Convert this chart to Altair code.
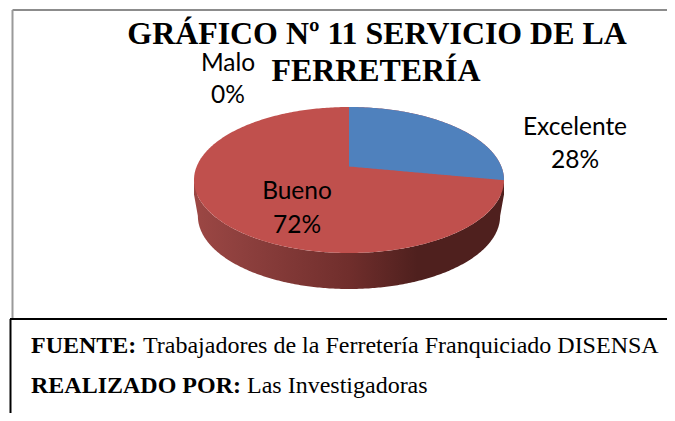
import numpy as np
import pandas as pd
import altair as alt

# ---- values
categories = ["Excelente", "Bueno", "Malo"]
shares = [28, 72, 0]
percent_labels = ["28%", "72%", "0%"]
title_lines = ["GRÁFICO Nº 11 SERVICIO DE LA", "FERRETERÍA"]
source_bold = ["FUENTE:", "REALIZADO POR:"]
source_plain = ["Trabajadores de la Ferretería Franquiciado DISENSA", "Las Investigadoras"]

W, H = 659, 405
CX, CY = 341, 172      # centre of the top face in the chart's frame
RX, RY = 155, 73       # radii of the top face
APEX = 0.185           # perspective shift of the slice apex, in RY units
DEPTH = 36 / RY
WALL_RX = 0.975

x_scale = alt.Scale(domain=[-CX / RX, (W - CX) / RX], range=[0, W], nice=False, zero=False)
y_scale = alt.Scale(domain=[-(H - CY) / RY, CY / RY], range=[H, 0], nice=False, zero=False)


def area_layer(df, color):
    return alt.Chart(df).mark_area(color=color, line=False, interpolate="linear").encode(
        x=alt.X("x:Q", scale=x_scale, axis=None),
        y=alt.Y("y:Q", scale=y_scale, axis=None),
        y2="y2:Q",
    )


def txt(text, x, y, font, size, bold=False, align="left", color="#000000"):
    return alt.Chart(pd.DataFrame({"t": [text]})).mark_text(
        font=font, fontSize=size, fontWeight="bold" if bold else "normal",
        align=align, baseline="alphabetic", color=color,
    ).encode(text="t:N", x=alt.value(x - 8), y=alt.value(y - 8))


def rule(x1, x2, y1, y2, color):
    return alt.Chart(pd.DataFrame({"a": [0]})).mark_rule(color=color, strokeWidth=2).encode(
        x=alt.value(x1 - 8), x2=alt.value(x2 - 8), y=alt.value(y1 - 8), y2=alt.value(y2 - 8)
    )


# Whole top face (Bueno), ellipse as a band between its two halves
t = np.linspace(-np.pi / 2, np.pi / 2, 241)
ex = np.sin(t)
face = pd.DataFrame({"x": ex, "y": np.cos(t), "y2": -np.cos(t)})

# Side wall: lower ellipse, joined to the rim at the widest points
wx = WALL_RX * ex
wall = pd.DataFrame({
    "x": np.r_[-1.0, wx, 1.0],
    "y": np.r_[0.0, -np.sqrt(np.clip(1 - wx ** 2, 0, 1)), 0.0],
    "y2": np.r_[-0.2, -DEPTH - np.cos(t), -0.2],
})
wall_fill = alt.Gradient(
    gradient="linear", x1=0, x2=1, y1=0, y2=0,
    stops=[
        alt.GradientStop(color="#9C4744", offset=0.0),
        alt.GradientStop(color="#8E403E", offset=0.15),
        alt.GradientStop(color="#702E2C", offset=0.5),
        alt.GradientStop(color="#4F201E", offset=0.72),
        alt.GradientStop(color="#4F201E", offset=1.0),
    ],
)

# Excelente slice, its end angle taken from the share
theta = 2 * np.pi * shares[0] / sum(shares)
end_y = APEX + np.cos(theta)
end_x = np.sqrt(1 - end_y ** 2)
u = np.linspace(0, np.arcsin(end_x), 121)
bx = np.sin(u)
blue = pd.DataFrame({"x": bx, "y": np.cos(u), "y2": APEX + (end_y - APEX) * bx / end_x})

chart = alt.layer(
    area_layer(wall, wall_fill),
    area_layer(face, "#C0504D"),
    area_layer(blue, "#4F81BD"),
    rule(12.5, 667, 10, 10, "#8C8C8C"),
    rule(12.5, 12.5, 10, 319, "#9A9A9A"),
    rule(10, 667, 319, 319, "#000000"),
    rule(10.5, 10.5, 319, 413, "#000000"),
    txt(title_lines[0], 377, 44, "Liberation Serif", 31.9, True, "center"),
    txt(title_lines[1], 376, 81, "Liberation Serif", 31.9, True, "center"),
    txt(categories[2], 228, 71, "Lato", 24.5, False, "center"),
    txt(percent_labels[2], 228, 103, "Lato", 24.5, False, "center"),
    txt(categories[0], 575, 135, "Lato", 24.5, False, "center"),
    txt(percent_labels[0], 575, 168, "Lato", 24.5, False, "center"),
    txt(categories[1], 297, 199, "Lato", 24.5, False, "center"),
    txt(percent_labels[1], 297, 233, "Lato", 24.5, False, "center"),
    txt(source_bold[0], 31, 353, "Liberation Serif", 24, True),
    txt(source_plain[0], 143, 353, "Liberation Serif", 24),
    txt(source_bold[1], 31, 393, "Liberation Serif", 24, True),
    txt(source_plain[1], 247, 393, "Liberation Serif", 24),
).properties(
    width=W, height=H, padding=0, autosize=alt.AutoSizeParams(type="none"), background="white"
).configure_view(stroke=None)

chart.save("out.html", embed_options={"renderer": "svg", "actions": False})
